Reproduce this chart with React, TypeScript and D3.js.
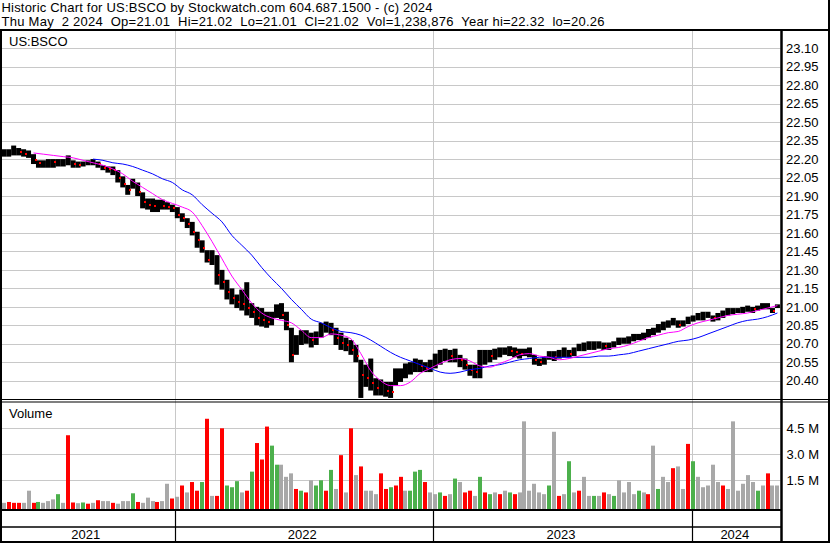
import * as d3 from "d3";
import { useEffect, useRef } from "react";

// Wednesday of the first week on the chart, one entry per week after it
const firstWeek = new Date(2021, 4, 5);

const weekHigh: number[] = [
  22.28, 22.28, 22.31, 22.29, 22.28, 22.27, 22.24, 22.19, 22.19, 22.2,
  22.2, 22.2, 22.2, 22.23, 22.19, 22.18, 22.18, 22.19, 22.2, 22.18,
  22.15, 22.14, 22.14, 22.11, 22.06, 21.99, 22.04, 22.01, 21.93, 21.88,
  21.88, 21.87, 21.87, 21.85, 21.83, 21.81, 21.76, 21.72, 21.69, 21.61,
  21.54, 21.46, 21.46, 21.42, 21.3, 21.22, 21.15, 21.1, 21.14, 21.2,
  21.03, 21.0, 20.99, 20.96, 20.96, 21.02, 21.03, 20.96, 20.83, 20.77,
  20.81, 20.81, 20.79, 20.8, 20.87, 20.88, 20.87, 20.83, 20.79, 20.75,
  20.73, 20.69, 20.57, 20.53, 20.58, 20.42, 20.41, 20.39, 20.39, 20.5,
  20.5, 20.54, 20.55, 20.58, 20.57, 20.55, 20.57, 20.62, 20.65, 20.66,
  20.65, 20.66, 20.61, 20.58, 20.53, 20.53, 20.65, 20.65, 20.65, 20.66,
  20.67, 20.67, 20.68, 20.67, 20.66, 20.66, 20.67, 20.61, 20.58, 20.6,
  20.64, 20.64, 20.65, 20.67, 20.65, 20.67, 20.7, 20.71, 20.72, 20.72,
  20.72, 20.71, 20.71, 20.72, 20.75, 20.75, 20.76, 20.78, 20.78, 20.79,
  20.82, 20.83, 20.86, 20.88, 20.89, 20.91, 20.89, 20.89, 20.92, 20.93,
  20.95, 20.96, 20.96, 20.93, 20.95, 20.97, 20.99, 20.99, 20.99, 21.0,
  21.01, 21.0, 21.01, 21.03, 21.03, 20.99, 21.02,
];
const weekLow: number[] = [
  22.22, 22.22, 22.23, 22.23, 22.22, 22.21, 22.16, 22.13, 22.13, 22.13,
  22.13, 22.14, 22.14, 22.15, 22.13, 22.13, 22.14, 22.15, 22.15, 22.13,
  22.11, 22.09, 22.07, 22.01, 21.97, 21.91, 21.96, 21.9, 21.8, 21.79,
  21.77, 21.77, 21.79, 21.79, 21.77, 21.72, 21.69, 21.64, 21.58, 21.48,
  21.44, 21.36, 21.34, 21.18, 21.14, 21.06, 21.02, 20.99, 20.97, 20.93,
  20.91, 20.85, 20.84, 20.83, 20.85, 20.91, 20.9, 20.81, 20.55, 20.61,
  20.69, 20.7, 20.67, 20.69, 20.75, 20.79, 20.77, 20.69, 20.65, 20.64,
  20.61, 20.55, 20.26, 20.35, 20.32, 20.28, 20.28, 20.27, 20.26, 20.36,
  20.39, 20.42, 20.45, 20.47, 20.47, 20.47, 20.47, 20.5, 20.53, 20.56,
  20.55, 20.55, 20.51, 20.49, 20.44, 20.42, 20.42, 20.53, 20.55, 20.57,
  20.59, 20.61, 20.6, 20.59, 20.58, 20.6, 20.59, 20.53, 20.52, 20.53,
  20.57, 20.56, 20.58, 20.59, 20.59, 20.6, 20.64, 20.64, 20.65, 20.65,
  20.66, 20.65, 20.65, 20.67, 20.69, 20.7, 20.7, 20.72, 20.73, 20.73,
  20.75, 20.77, 20.79, 20.81, 20.83, 20.85, 20.83, 20.84, 20.86, 20.88,
  20.89, 20.89, 20.91, 20.88, 20.89, 20.91, 20.93, 20.94, 20.95, 20.95,
  20.96, 20.95, 20.97, 20.98, 20.98, 20.95, 20.99,
];
const weekClose: number[] = [
  22.25, 22.26, 22.27, 22.26, 22.24, 22.26, 22.19, 22.17, 22.18, 22.19,
  22.18, 22.18, 22.19, 22.2, 22.16, 22.15, 22.17, 22.17, 22.19, 22.16,
  22.13, 22.12, 22.11, 22.05, 22.0, 21.95, 22.01, 21.93, 21.85, 21.83,
  21.82, 21.83, 21.82, 21.81, 21.8, 21.75, 21.72, 21.67, 21.61, 21.54,
  21.48, 21.38, 21.4, 21.26, 21.2, 21.12, 21.07, 21.04, 21.02, 20.99,
  20.96, 20.91, 20.89, 20.88, 20.91, 20.97, 20.93, 20.85, 20.61, 20.69,
  20.75, 20.76, 20.73, 20.75, 20.83, 20.84, 20.81, 20.75, 20.71, 20.69,
  20.65, 20.6, 20.45, 20.42, 20.38, 20.34, 20.36, 20.32, 20.31, 20.45,
  20.47, 20.49, 20.5, 20.53, 20.52, 20.5, 20.53, 20.57, 20.6, 20.62,
  20.6, 20.61, 20.57, 20.53, 20.49, 20.47, 20.55, 20.61, 20.6, 20.63,
  20.63, 20.65, 20.64, 20.63, 20.62, 20.63, 20.63, 20.57, 20.55, 20.57,
  20.61, 20.59, 20.62, 20.63, 20.62, 20.63, 20.67, 20.68, 20.68, 20.68,
  20.69, 20.68, 20.68, 20.69, 20.72, 20.73, 20.73, 20.75, 20.75, 20.76,
  20.78, 20.8, 20.83, 20.84, 20.86, 20.88, 20.85, 20.87, 20.89, 20.91,
  20.92, 20.93, 20.93, 20.91, 20.92, 20.95, 20.96, 20.96, 20.97, 20.98,
  20.99, 20.98, 20.99, 21.01, 21.02, 20.97, 21.02,
];
// volume in millions of shares
const weekVolume: number[] = [
  0.2, 0.25, 0.2, 0.2, 0.2, 0.9, 0.2, 0.25, 0.2, 0.3,
  0.4, 0.7, 0.2, 4.1, 0.22, 0.18, 0.22, 0.15, 0.2, 0.35,
  0.3, 0.3, 0.2, 0.15, 0.3, 0.3, 0.75, 0.25, 0.2, 0.5,
  0.3, 0.25, 0.3, 1.3, 0.45, 0.55, 1.2, 0.8, 1.4, 0.9,
  1.4, 5.05, 0.6, 0.6, 4.5, 1.2, 1.1, 1.45, 0.8, 0.9,
  2.0, 3.65, 2.7, 4.6, 3.5, 2.4, 2.4, 1.7, 1.9, 1.0,
  0.9, 0.8, 1.5, 1.2, 1.5, 0.9, 2.1, 1.0, 2.95, 0.8,
  4.5, 1.8, 2.3, 0.9, 0.9, 0.7, 1.9, 1.0, 1.1, 1.2,
  1.7, 0.9, 0.9, 2.0, 2.1, 1.4, 0.8, 0.7, 0.8, 0.6,
  0.7, 1.6, 1.4, 0.8, 0.9, 0.6, 1.7, 0.8, 0.7, 0.8,
  0.7, 0.9, 0.8, 0.7, 0.8, 4.9, 0.9, 1.3, 0.8, 0.7,
  1.2, 4.3, 0.6, 0.7, 2.6, 0.8, 0.9, 1.7, 0.6, 0.6,
  0.6, 0.8, 0.7, 0.6, 1.5, 0.8, 1.4, 0.7, 0.9, 0.8,
  0.7, 3.5, 1.0, 1.7, 1.4, 2.2, 2.3, 1.0, 3.6, 2.6,
  1.7, 1.1, 1.2, 2.4, 1.4, 1.2, 1.0, 4.9, 0.9, 1.3,
  1.8, 1.4, 0.9, 1.2, 1.9, 1.2, 1.2,
];
// u = up, d = down, f = unchanged
const weekVolumeDir =
  "fdddffduff" + "fufddfudfd" + "ffdfffudff" + "fdffdfdfdd" +
  "udfdduuufd" + "uddduufffd" + "udfuudufdf" + "dfdfffddud" +
  "dfuuudffud" + "fufddfuduf" + "dfudffffff" + "ufdfufdffu" +
  "fdfuffffuf" + "dfuffdffdu" + "fffffdffff" + "ffufdff";

// moving averages, one value every second week (null before they begin)
const maFast: (number | null)[] = [
  null, null, null, 22.25, 22.24, 22.23, 22.22, 22.21, 22.19, 22.17,
  22.15, 22.12, 22.08, 22.02, 21.97, 21.92, 21.87, 21.84, 21.81, 21.77,
  21.66, 21.53, 21.39, 21.25, 21.14, 21.03, 20.95, 20.91, 20.89, 20.87,
  20.81, 20.75, 20.75, 20.78, 20.77, 20.74, 20.62, 20.48, 20.4, 20.36,
  20.36, 20.39, 20.46, 20.5, 20.54, 20.57, 20.58, 20.56, 20.52, 20.51,
  20.54, 20.57, 20.61, 20.62, 20.6, 20.59, 20.57, 20.58, 20.6, 20.62,
  20.64, 20.66, 20.67, 20.69, 20.72, 20.75, 20.77, 20.79, 20.8, 20.84,
  20.87, 20.89, 20.91, 20.93, 20.94, 20.95, 20.97, 20.99, 21.01,
];
const maSlow: (number | null)[] = [
  null, null, null, null, null, null, null, null, null, 22.2,
  22.19, 22.17, 22.16, 22.14, 22.11, 22.08, 22.04, 22.01, 21.95, 21.91,
  21.83, 21.76, 21.69, 21.58, 21.5, 21.42, 21.32, 21.23, 21.15, 21.06,
  20.98, 20.9, 20.87, 20.83, 20.8, 20.79, 20.77, 20.73, 20.68, 20.63,
  20.59, 20.56, 20.53, 20.5, 20.47, 20.46, 20.47, 20.49, 20.5, 20.52,
  20.53, 20.55, 20.57, 20.58, 20.59, 20.59, 20.59, 20.59, 20.59, 20.59,
  20.6, 20.6, 20.61, 20.62, 20.64, 20.66, 20.68, 20.7, 20.72, 20.73,
  20.75, 20.78, 20.81, 20.84, 20.87, 20.89, 20.9, 20.92, 20.95,
];

const priceTicks: string[] = [
  "23.10", "22.95", "22.80", "22.65", "22.50", "22.35", "22.20", "22.05",
  "21.90", "21.75", "21.60", "21.45", "21.30", "21.15", "21.00", "20.85",
  "20.70", "20.55", "20.40",
];
const volumeTicks: number[] = [1.5, 3.0, 4.5];
const volumeTickLabels: string[] = ["1.5 M", "3.0 M", "4.5 M"];
const yearStarts: string[] = ["2022-01-01", "2023-01-01", "2024-01-01"];
const yearLabels: string[] = ["2021", "2022", "2023", "2024"];

const titleLine = "Historic Chart for US:BSCO by Stockwatch.com 604.687.1500 - (c) 2024";
const quoteLine =
  "Thu May  2 2024  Op=21.01  Hi=21.02  Lo=21.01  Cl=21.02  Vol=1,238,876  Year hi=22.32  lo=20.26";

const width = 830;
const height = 543;
const plotLeft = 2;
const plotRight = 780.5;
const priceTop = 31;
const priceBottom = 399;
const volBottom = 509;
const font = "'Liberation Sans', Arial, sans-serif";

export default function App() {
  const svgRef = useRef<SVGSVGElement>(null);

  useEffect(() => {
    const svg = d3.select(svgRef.current);
    svg.selectAll("*").remove();

    const parse = d3.timeParse("%Y-%m-%d");
    const weekDates = weekClose.map((_, i) => d3.timeDay.offset(firstWeek, 7 * i));
    const maDates = maFast.map((_, k) => d3.timeDay.offset(firstWeek, 14 * k));

    const x = d3
      .scaleTime()
      .domain([new Date(2022, 0, 1), new Date(2024, 0, 1)])
      .range([174.5, 691.7]);
    const y = d3.scaleLinear().domain([20.4, 23.1]).range([380.7, 48.3]);
    const yv = d3.scaleLinear().domain([0, 4.5]).range([506.3, 428.3]);

    svg.append("rect").attr("width", width).attr("height", height).attr("fill", "#fff");

    // clip for the price panel
    svg
      .append("defs")
      .append("clipPath")
      .attr("id", "priceClip")
      .append("rect")
      .attr("x", plotLeft)
      .attr("y", priceTop)
      .attr("width", plotRight - plotLeft)
      .attr("height", priceBottom - priceTop);

    const grid = svg.append("g").attr("stroke", "#c8c8c8").attr("stroke-width", 1);
    grid
      .selectAll("line.h")
      .data(priceTicks)
      .enter()
      .append("line")
      .attr("x1", plotLeft)
      .attr("x2", plotRight)
      .attr("y1", (d) => Math.round(y(+d)) + 0.5)
      .attr("y2", (d) => Math.round(y(+d)) + 0.5);
    grid
      .selectAll("line.v")
      .data(volumeTicks)
      .enter()
      .append("line")
      .attr("x1", plotLeft)
      .attr("x2", plotRight)
      .attr("y1", (d) => Math.round(yv(d)) + 0.5)
      .attr("y2", (d) => Math.round(yv(d)) + 0.5);
    grid
      .selectAll("line.y")
      .data(yearStarts)
      .enter()
      .append("line")
      .attr("x1", (d) => Math.round(x(parse(d)!)) + 0.5)
      .attr("x2", (d) => Math.round(x(parse(d)!)) + 0.5)
      .attr("y1", priceTop)
      .attr("y2", volBottom);

    // price bars (weekly high-low), packed into a continuous band
    const price = svg.append("g").attr("clip-path", "url(#priceClip)");
    price
      .append("g")
      .attr("fill", "#000")
      .selectAll("rect")
      .data(weekClose)
      .enter()
      .append("rect")
      .attr("x", (_, i) => x(weekDates[i]) - 2.5)
      .attr("width", 5)
      .attr("y", (_, i) => y(weekHigh[i]))
      .attr("height", (_, i) => Math.max(1, y(weekLow[i]) - y(weekHigh[i])));
    price
      .append("g")
      .attr("fill", "#ff0000")
      .selectAll("rect")
      .data(weekClose.map((c, i) => ({ c, i })).filter((d) => d.i > 0 && d.c < weekClose[d.i - 1]))
      .enter()
      .append("rect")
      .attr("x", (d) => Math.round(x(weekDates[d.i])) + 1)
      .attr("width", 2)
      .attr("y", (d) => Math.round(y(d.c)) - 1)
      .attr("height", 2);

    // moving averages
    const maLine = d3
      .line<number | null>()
      .defined((d) => d !== null)
      .x((_, k) => x(maDates[k]))
      .y((d) => y(d as number))
      .curve(d3.curveMonotoneX);
    price
      .append("path")
      .attr("d", maLine(maSlow))
      .attr("fill", "none")
      .attr("stroke", "#0000ff")
      .attr("stroke-width", 1);
    price
      .append("path")
      .attr("d", maLine(maFast))
      .attr("fill", "none")
      .attr("stroke", "#ff00ff")
      .attr("stroke-width", 1);

    // volume bars
    const volColor: Record<string, string> = { u: "#4cb04c", d: "#ff0000", f: "#a8a8a8" };
    svg
      .append("g")
      .selectAll("rect")
      .data(weekVolume)
      .enter()
      .append("rect")
      .attr("x", (_, i) => Math.round(x(weekDates[i])) - 2)
      .attr("width", 4)
      .attr("y", (d) => yv(d))
      .attr("height", (d) => volBottom - yv(d))
      .attr("fill", (_, i) => volColor[weekVolumeDir[i]]);

    // frame
    const frame = svg.append("g").attr("stroke", "#000");
    const hline = (y0: number, x1: number, x2: number, w: number) =>
      frame.append("line").attr("x1", x1).attr("x2", x2).attr("y1", y0).attr("y2", y0).attr("stroke-width", w);
    const vline = (x0: number, y1: number, y2: number, w: number) =>
      frame.append("line").attr("x1", x0).attr("x2", x0).attr("y1", y1).attr("y2", y2).attr("stroke-width", w);
    hline(30, 0, width, 2);
    hline(399.5, 0, width, 1.2);
    hline(402, 0, width, 1.2);
    hline(510, 0, 782, 2);
    hline(527, 0, 782, 1.5);
    hline(542, 0, width, 2);
    vline(1, 29, height, 2);
    vline(829, 0, height, 2);
    vline(781.5, 30, height, 2.5);
    yearStarts.forEach((s) => vline(Math.round(x(parse(s)!)) + 0.5, 510, height, 1.2));

    const text = svg.append("g").attr("font-family", font).attr("font-size", 13).attr("fill", "#000");
    text
      .append("text")
      .attr("x", 1.5)
      .attr("y", 11.5)
      .attr("textLength", 431)
      .attr("lengthAdjust", "spacing")
      .style("white-space", "pre")
      .text(titleLine);
    text
      .append("text")
      .attr("x", 1.5)
      .attr("y", 26)
      .attr("textLength", 603)
      .attr("lengthAdjust", "spacing")
      .style("white-space", "pre")
      .text(quoteLine);
    text.append("text").attr("x", 9).attr("y", 46).text("US:BSCO");
    text.append("text").attr("x", 9).attr("y", 417.5).text("Volume");

    text
      .selectAll("text.pt")
      .data(priceTicks)
      .enter()
      .append("text")
      .attr("x", 786)
      .attr("y", (d) => y(+d))
      .attr("dy", "0.36em")
      .text((d) => d);
    text
      .selectAll("text.vt")
      .data(volumeTicks)
      .enter()
      .append("text")
      .attr("x", 786.5)
      .attr("y", (d) => yv(d))
      .attr("dy", "0.36em")
      .text((_, i) => volumeTickLabels[i]);

    const bounds = [plotLeft - 2, ...yearStarts.map((s) => x(parse(s)!)), 781];
    text
      .selectAll("text.yr")
      .data(yearLabels)
      .enter()
      .append("text")
      .attr("x", (_, i) => (bounds[i] + bounds[i + 1]) / 2 - 1.5)
      .attr("y", 539)
      .attr("text-anchor", "middle")
      .text((d) => d);
  }, []);

  return (
    <svg
      ref={svgRef}
      width={width}
      height={height}
      style={{ position: "absolute", left: 0, top: 0, display: "block" }}
    />
  );
}
